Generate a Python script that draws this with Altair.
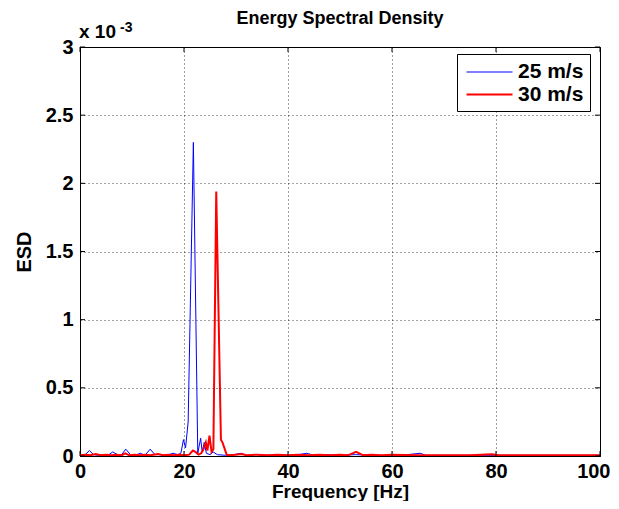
import altair as alt
import pandas as pd

# ESD values are in units of 1e-3
freq_25 = [0, 1.0, 1.8, 2.6, 3.5, 4.5, 5.4, 6.3, 7.2, 8.0, 8.8, 9.7, 10.6, 11.6, 12.5,
           13.5, 14.4, 15.3, 16.2, 17.1, 17.9, 18.8, 19.4, 19.9, 20.3, 20.8, 21.8,
           22.65, 23.2, 23.5, 23.9, 24.3, 25.0, 25.6, 26.4, 28.0, 29.5, 31.0, 32.0,
           34.0, 36.0, 38.0, 40.0, 42.0, 43.6, 45.0, 47.0, 50.0, 53.0, 56.0, 60.0,
           63.0, 65.4, 66.5, 70.0, 75.0, 80.0, 85.0, 90.0, 95.0, 100.0]
esd_25 = [0.005, 0.01, 0.04, 0.01, 0.005, 0.01, 0.005, 0.03, 0.01, 0.01, 0.05, 0.01, 0.005, 0.02, 0.005,
          0.05, 0.01, 0.01, 0.005, 0.01, 0.02, 0.01, 0.02, 0.12, 0.06, 0.25, 2.30,
          0.02, 0.13, 0.03, 0.10, 0.02, 0.01, 0.03, 0.01, 0.005, 0.01, 0.02, 0.005,
          0.01, 0.005, 0.01, 0.005, 0.01, 0.02, 0.005, 0.01, 0.005, 0.01, 0.005, 0.005,
          0.01, 0.02, 0.005, 0.005, 0.005, 0.005, 0.005, 0.005, 0.005, 0.005]

freq_30 = [0, 1, 2, 3, 4, 5, 6, 7, 8, 8.7, 9.5, 10.5, 11.5, 12.5, 13.5, 15, 16, 17, 18, 19,
           20, 21, 21.7, 22.2, 22.8, 23.3, 23.7, 24.2, 24.5, 24.9, 25.3, 25.65, 26.2, 27.1,
           27.4, 28.2, 29, 30, 31.1, 32, 34, 36, 38, 40, 42, 44, 46, 48, 50, 51.5, 53.1,
           54.5, 56, 58, 60, 65, 70, 75, 79.2, 80.5, 85, 90, 95, 100]
esd_30 = [0.005, 0.01, 0.005, 0.015, 0.005, 0.01, 0.005, 0.01, 0.005, 0.02, 0.005, 0.01, 0.005, 0.01, 0.005, 0.015, 0.005, 0.01, 0.005, 0.01,
          0.005, 0.01, 0.04, 0.03, 0.01, 0.02, 0.045, 0.10, 0.04, 0.15, 0.03, 0.05, 1.94, 0.12,
          0.10, 0.01, 0.005, 0.01, 0.015, 0.005, 0.01, 0.005, 0.01, 0.005, 0.01, 0.005, 0.01, 0.005, 0.01, 0.005, 0.03,
          0.005, 0.01, 0.005, 0.01, 0.005, 0.005, 0.005, 0.012, 0.005, 0.005, 0.005, 0.005, 0.005]

series_names = ["25 m/s", "30 m/s"]
series_colors = ["#0000ff", "#ff0000"]
series_widths = [1.0, 2.0]

x_ticks = [0, 20, 40, 60, 80, 100]
y_ticks = [0, 0.5, 1, 1.5, 2, 2.5, 3]

df = pd.concat([
    pd.DataFrame({"f": freq_25, "esd": esd_25, "series": series_names[0]}),
    pd.DataFrame({"f": freq_30, "esd": esd_30, "series": series_names[1]}),
], ignore_index=True)

W, H = 520, 409
FONT = "Liberation Sans"
TL = 5

x_scale = alt.Scale(domain=[0, 100], nice=False)
y_scale = alt.Scale(domain=[0, 3], nice=False)
x_axis = alt.Axis(title="Frequency [Hz]", values=x_ticks, format="d",
                  grid=True, tickSize=0, labelPadding=5, titlePadding=1, titleFontSize=19,
                  labelAlign={"condition": {"test": "datum.value == 100", "value": "right"},
                              "value": "center"},
                  labelOffset={"condition": {"test": "datum.value == 100", "value": 10},
                               "value": 0})
y_axis = alt.Axis(title="ESD", values=y_ticks, format="~g",
                  grid=True, tickSize=0, labelPadding=7, titlePadding=11)

lines = alt.Chart(df).mark_line(clip=True).encode(
    x=alt.X("f:Q", scale=x_scale, axis=x_axis),
    y=alt.Y("esd:Q", scale=y_scale, axis=y_axis),
    color=alt.Color("series:N",
                    scale=alt.Scale(domain=series_names, range=series_colors),
                    legend=alt.Legend(title=None, orient="none", legendX=377, legendY=7,
                                      direction="vertical")),
    strokeWidth=alt.StrokeWidth("series:N",
                                scale=alt.Scale(domain=series_names, range=series_widths),
                                legend=None),
)

xt = pd.DataFrame({"f": x_ticks})
yt = pd.DataFrame({"esd": y_ticks})

bottom_ticks = alt.Chart(xt).mark_rule(color="black", strokeWidth=1).encode(
    x=alt.X("f:Q", scale=x_scale, axis=x_axis), y=alt.value(H), y2=alt.value(H - TL))
top_ticks = alt.Chart(xt).mark_rule(color="black", strokeWidth=1).encode(
    x=alt.X("f:Q", scale=x_scale, axis=x_axis), y=alt.value(0), y2=alt.value(TL))
left_ticks = alt.Chart(yt).mark_rule(color="black", strokeWidth=1).encode(
    y=alt.Y("esd:Q", scale=y_scale, axis=y_axis), x=alt.value(0), x2=alt.value(TL))
right_ticks = alt.Chart(yt).mark_rule(color="black", strokeWidth=1).encode(
    y=alt.Y("esd:Q", scale=y_scale, axis=y_axis), x=alt.value(W - TL), x2=alt.value(W))

one = pd.DataFrame({"t": ["x 10"]})
exp_base = alt.Chart(one).mark_text(font=FONT, fontSize=19, fontWeight="bold",
                                    align="left", baseline="alphabetic", color="black").encode(
    x=alt.value(-1), y=alt.value(-9), text=alt.value("x 10"))
exp_sup = alt.Chart(one).mark_text(font=FONT, fontSize=14, fontWeight="bold",
                                   align="left", baseline="alphabetic", color="black").encode(
    x=alt.value(40), y=alt.value(-15), text=alt.value("-3"))

chart = alt.layer(lines, bottom_ticks, top_ticks, left_ticks, right_ticks, exp_base, exp_sup).properties(
    width=W, height=H,
    title=alt.TitleParams("Energy Spectral Density", font=FONT, fontSize=18,
                          fontWeight="bold", color="black", offset=-7, frame="group"),
    autosize=alt.AutoSizeParams(type="none"),
    padding={"left": 72, "top": 39, "right": 11, "bottom": 45},
).configure_view(
    stroke="black", strokeWidth=1
).configure_axis(
    labelFont=FONT, labelFontSize=20, labelFontWeight="bold", labelColor="black",
    titleFont=FONT, titleFontSize=20, titleFontWeight="bold", titleColor="black",
    domainColor="black", gridColor="black", gridDash=[1, 3], gridOpacity=0.75,
    labelOverlap=False, labelFlush=False,
).configure_legend(
    labelFont=FONT, labelFontSize=21, labelFontWeight="bold", labelColor="black",
    symbolType="M-2,0H2", symbolSize=529, symbolStrokeWidth=2,
    symbolOffset=14, labelOffset=16, padding=6, rowPadding=0,
    strokeColor="black", fillColor="white", cornerRadius=0,
)

chart.save("out.html", embed_options={"renderer": "svg", "actions": False})
